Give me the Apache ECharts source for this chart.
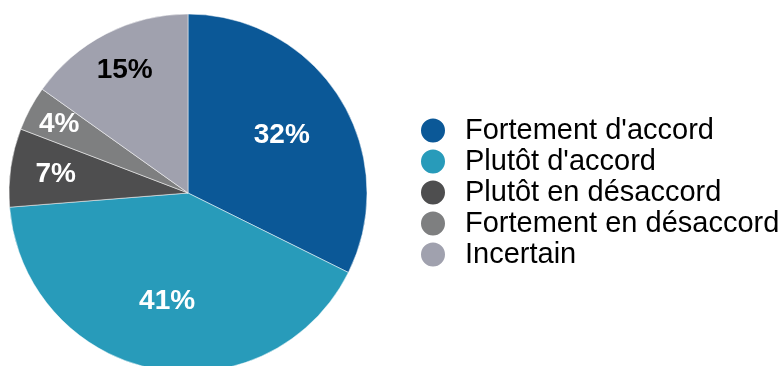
<!DOCTYPE html>
<html>
<head>
<meta charset="utf-8">
<script src="https://cdn.jsdelivr.net/npm/echarts@6/dist/echarts.min.js"></script>
<style>html,body{margin:0;padding:0;background:#fff}#c{width:784px;height:366px}</style>
</head>
<body>
<div id="c"></div>
<script>
var categories = ["Fortement d'accord", "Plutôt d'accord", "Plutôt en désaccord", "Fortement en désaccord", "Incertain"];
var values = [32, 41, 7, 4, 15];
var colors = ['#0B5897', '#289BBA', '#4E4E4F', '#7E7F80', '#A0A1AE'];
var labelColors = ['#fff', '#fff', '#fff', '#fff', '#000'];
var labelDist = [0.6, 0.6, 0.73, 0.8, 0.755];

var R = 179, CX = 188, CY = 193;
var series = [{
  type: 'pie',
  center: [CX, CY],
  radius: [0, R],
  startAngle: 90,
  clockwise: true,
  silent: true,
  label: { show: false },
  labelLine: { show: false },
  itemStyle: { borderColor: '#fff', borderWidth: 0.5 },
  data: categories.map(function (n, i) {
    return { name: n, value: values[i], itemStyle: { color: colors[i] } };
  })
}];
categories.forEach(function (n, k) {
  series.push({
    type: 'pie',
    center: [CX, CY],
    radius: [(2 * labelDist[k] - 1) * R, R],
    startAngle: 90,
    clockwise: true,
    silent: true,
    z: 5,
    labelLine: { show: false },
    itemStyle: { color: 'rgba(0,0,0,0)' },
    emphasis: { disabled: true },
    data: categories.map(function (m, i) {
      return {
        name: m, value: values[i],
        itemStyle: { color: 'rgba(0,0,0,0)' },
        label: {
          show: i === k, position: 'inside', formatter: '{c}%',
          color: labelColors[i], fontSize: 28, fontWeight: 'bold',
          fontFamily: 'Liberation Sans, Arial, sans-serif'
        }
      };
    })
  });
});

var chart = echarts.init(document.getElementById('c'));
chart.setOption({
  animation: false,
  color: colors,
  legend: {
    orient: 'vertical',
    left: 414,
    top: 110,
    itemWidth: 26,
    itemHeight: 26,
    itemGap: 0,
    icon: 'circle',
    selectedMode: false,
    data: categories,
    textStyle: {
      fontSize: 29,
      lineHeight: 31,
      color: '#000',
      padding: [0, 0, 0, 14],
      fontFamily: 'Liberation Sans, Arial, sans-serif'
    }
  },
  series: series
});
</script>
</body>
</html>
